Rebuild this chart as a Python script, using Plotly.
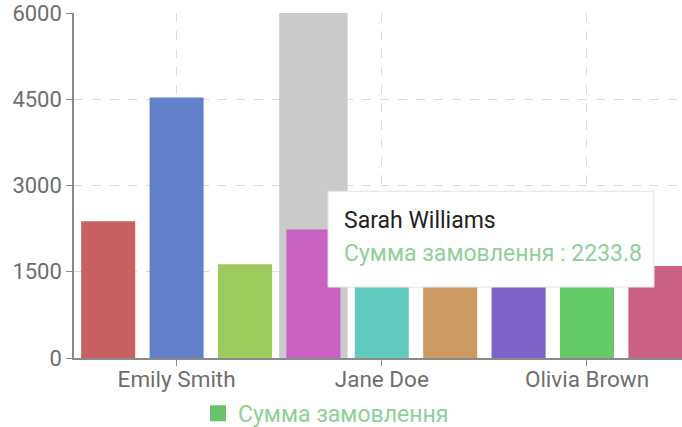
import plotly.graph_objects as go

names = ["John Doe", "Emily Smith", "Michael Johnson", "Sarah Williams", "Jane Doe",
         "David Brown", "Anna Miller", "Olivia Brown", "James Wilson"]
values = [2380, 4530, 1630, 2233.8, 2100, 1950, 2600, 1850, 1600]
bar_colors = ["#c96060", "#6381c9", "#9dcb5e", "#c962c0", "#62cbbd",
              "#cc9a62", "#7f63c9", "#64c967", "#c96184"]
shown_labels = ["Emily Smith", "Jane Doe", "Olivia Brown"]
y_ticks = [0, 1500, 3000, 4500, 6000]
series_name = "Сумма замовлення"
hover_index = 3
y_max = 6000

FONT = "Roboto, 'Noto Sans', sans-serif"
AXIS_TXT = "#6e6e6e"
GREEN_TXT = "#8fcf98"

fig = go.Figure()

# hover shadow behind the hovered category
fig.add_trace(go.Bar(
    x=[names[hover_index]], y=[y_max], width=1.0,
    marker=dict(color="#cacaca", line=dict(width=0)),
    showlegend=False, hoverinfo="skip",
))

fig.add_trace(go.Bar(
    x=names, y=values, name=series_name,
    marker=dict(color=bar_colors, line=dict(width=0)),
    showlegend=False,
))

# legend entry
fig.add_trace(go.Scatter(
    x=[None], y=[None], name=series_name, mode="markers",
    marker=dict(color="#67c46d", symbol="square", size=16), showlegend=True,
))

fig.update_layout(
    width=682, height=427,
    margin=dict(l=74, r=0, t=13, b=69, autoexpand=False),
    paper_bgcolor="white", plot_bgcolor="white",
    barmode="overlay", bargap=0.21,
    font=dict(family=FONT, size=22, color=AXIS_TXT),
    showlegend=True,
    legend=dict(
        orientation="h", xref="container", yref="container",
        x=0.478, xanchor="center", y=0.032, yanchor="middle",
        font=dict(family=FONT, size=23, color=GREEN_TXT),
        itemwidth=30, bgcolor="rgba(0,0,0,0)",
    ),
    xaxis=dict(
        type="category", categoryorder="array", categoryarray=names,
        range=[-0.5, 8.389],
        tickmode="array", tickvals=shown_labels, ticktext=shown_labels,
        showline=True, linecolor="#8a8a8a", linewidth=1.5,
        ticks="outside", ticklen=6, tickcolor="#8a8a8a",
        ticklabelstandoff=-6,
        showgrid=True, gridcolor="#dcdcdc", griddash="dash", gridwidth=1,
        tickfont=dict(size=22.5, color=AXIS_TXT),
        fixedrange=True, automargin=False,
    ),
    yaxis=dict(
        range=[0, y_max], tickmode="array", tickvals=y_ticks,
        showline=True, linecolor="#8a8a8a", linewidth=1.5,
        ticks="outside", ticklen=6, tickcolor="#8a8a8a",
        showgrid=True, gridcolor="#dcdcdc", griddash="dash", gridwidth=1,
        zeroline=False,
        tickfont=dict(size=22, color=AXIS_TXT),
        fixedrange=True, automargin=False,
    ),
)

# tooltip box
fig.add_shape(
    type="rect", xref="paper", yref="paper",
    x0=0.4178, x1=0.954, y0=0.2055, y1=0.4834,
    fillcolor="white", line=dict(color="#e2e2e2", width=1), layer="above",
)
fig.add_annotation(
    xref="paper", yref="paper", x=0.440, y=0.399, xanchor="left", yanchor="middle",
    text=names[hover_index], showarrow=False,
    font=dict(family=FONT, size=23, color="#222222"),
)
fig.add_annotation(
    xref="paper", yref="paper", x=0.440, y=0.304, xanchor="left", yanchor="middle",
    text=f"{series_name} : {values[hover_index]}", showarrow=False,
    font=dict(family=FONT, size=23, color=GREEN_TXT),
)

fig.write_html("out.html")
